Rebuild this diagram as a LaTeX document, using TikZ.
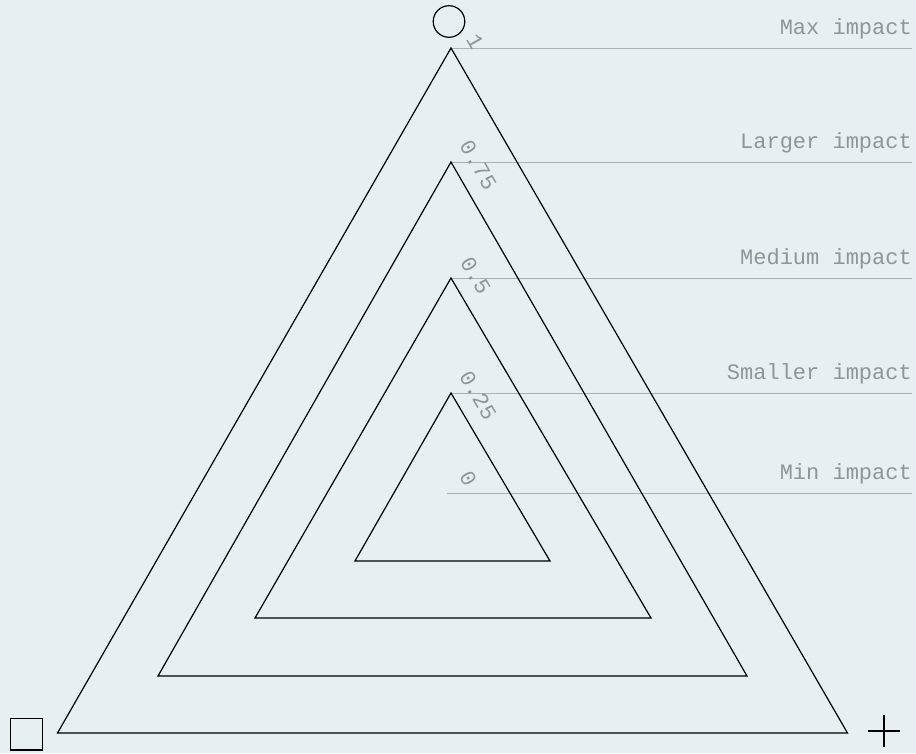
\documentclass[tikz,border=0pt]{standalone}
\usepackage{fontspec}
\newfontfamily\monof{Liberation Mono}
\definecolor{bgc}{HTML}{E6EFF2}
\definecolor{txtgray}{HTML}{8F9699}
\definecolor{linegray}{HTML}{AAB1B4}
\begin{document}
\begin{tikzpicture}[x=1pt,y=-1pt,
  tri/.style={draw=black,line width=1.2pt,line join=miter},
  levelline/.style={draw=linegray,line width=1pt},
  ticklab/.style={rotate=-60,anchor=west,inner sep=0pt,text=txtgray,font=\monof\fontsize{22}{24}\selectfont},
  impactlab/.style={anchor=base east,inner sep=0pt,text=txtgray,font=\monof\fontsize{22}{24}\selectfont},
  symb/.style={draw=black,line width=1.2pt}]
\fill[bgc] (0,0) rectangle (916,753);
\useasboundingbox (0,0) rectangle (916,753);
% level lines
\coordinate (r1) at (912,48);
\coordinate (r2) at (912,162);
\coordinate (r3) at (912,278);
\coordinate (r4) at (912,393);
\coordinate (r5) at (912,493);
\coordinate (a1) at (451,48);
\coordinate (a2) at (451,162);
\coordinate (a3) at (451,278);
\coordinate (a4) at (451,393);
\coordinate (a5) at (447,493);
\foreach \i in {1,...,5}{\draw[levelline] (a\i) -- (r\i);}
% triangles
\coordinate (l1) at (57.5,733);  \coordinate (b1) at (847.5,733);
\coordinate (l2) at (158,676);   \coordinate (b2) at (747,676);
\coordinate (l3) at (255,618);   \coordinate (b3) at (651,618);
\coordinate (l4) at (355,561);   \coordinate (b4) at (550,561);
\foreach \i in {1,...,4}{\draw[tri] (a\i) -- (b\i) -- (l\i) -- cycle;}
% tick labels
\node[ticklab] (t1) at (471.7,35.3) {1};
\node[ticklab] (t2) at (465,142) {0.75};
\node[ticklab] (t3) at (465.7,258.3) {0.5};
\node[ticklab] (t4) at (464.7,372.3) {0.25};
\node[ticklab] (t5) at (464.7,472.3) {0};
% impact labels
\node[impactlab] (m1) at (912,34) {Max impact};
\node[impactlab] (m2) at (912,148) {Larger impact};
\node[impactlab] (m3) at (912,264) {Medium impact};
\node[impactlab] (m4) at (912,379) {Smaller impact};
\node[impactlab] (m5) at (912,479) {Min impact};
% corner symbols
\draw[symb] (449,21.5) circle (15.8);
\draw[symb] (10.7,718.3) rectangle (42.7,750);
\draw[symb] (868.3,731) -- (900,731);
\draw[symb] (884,715) -- (884,746.7);
\end{tikzpicture}
\end{document}
